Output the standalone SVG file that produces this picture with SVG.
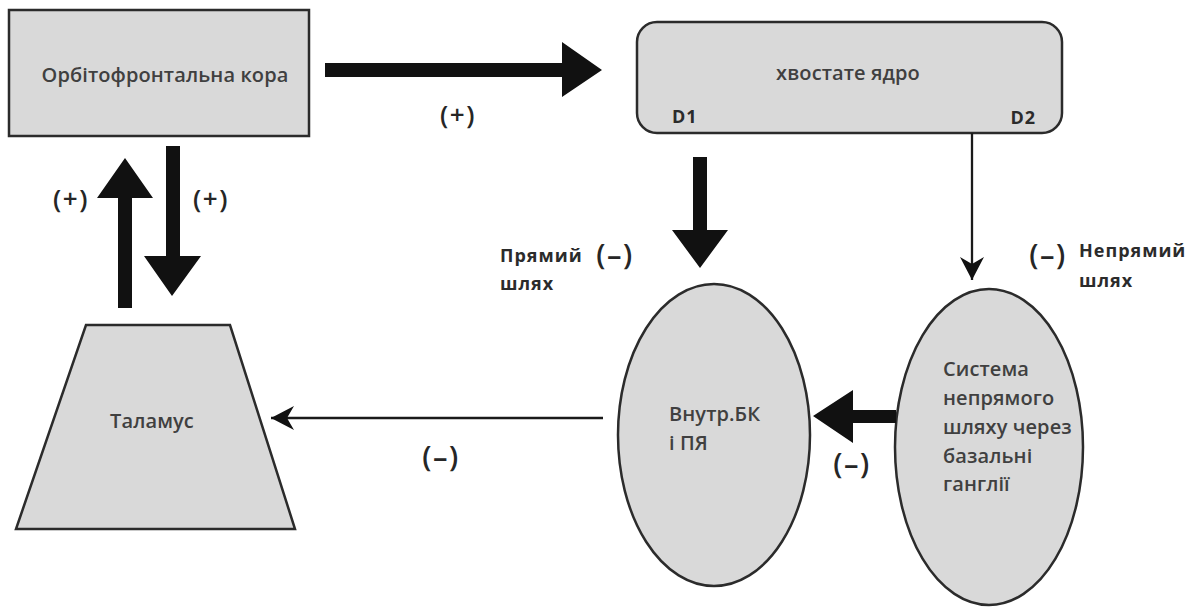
<svg xmlns="http://www.w3.org/2000/svg" width="1204" height="608" viewBox="0 0 1204 608">
  <style>
    .shape { fill: #d9d9d9; stroke: #2b2b2b; stroke-width: 2.5; }
    .label { font-family: "Open Sans", "Noto Sans", "DejaVu Sans", sans-serif; font-weight: 600; font-size: 20px; letter-spacing: 0.1px; fill: #404040; }
    .bold { font-family: "Open Sans", "Noto Sans", "DejaVu Sans", sans-serif; font-weight: bold; font-size: 18px; letter-spacing: 1px; fill: #2b2b2b; }
    .sign { font-family: "Open Sans", "Noto Sans", "DejaVu Sans", sans-serif; font-weight: 600; fill: #262626; text-anchor: middle; letter-spacing: 1.5px; }
    .thick { fill: #111; }
    .thin { fill: none; stroke: #1a1a1a; stroke-width: 2.3; }
  </style>
  <defs>
    <marker id="barb" viewBox="-24 -13 25 26" refX="0" refY="0" markerWidth="25" markerHeight="26" markerUnits="userSpaceOnUse" orient="auto">
      <path d="M0,0 L-23,-12 L-16,0 L-23,12 Z" fill="#111"/>
    </marker>
  </defs>

  <rect width="1204" height="608" fill="#ffffff"/>

  <!-- Nodes -->
  <g id="ofc">
    <rect class="shape" x="9" y="10" width="300" height="126"/>
    <text class="label" x="165" y="82" text-anchor="middle">Орбітофронтальна кора</text>
  </g>

  <g id="caudate">
    <rect class="shape" x="637" y="22" width="425" height="111" rx="20" ry="20"/>
    <text class="label" x="848" y="80" text-anchor="middle">хвостате ядро</text>
    <text class="bold" x="672" y="123" font-size="20" letter-spacing="0">D1</text>
    <text class="bold" x="1036" y="124" text-anchor="end" font-size="20" letter-spacing="0">D2</text>
  </g>

  <g id="thalamus">
    <polygon class="shape" points="86,325 230,325 295,529 16,529"/>
    <text class="label" x="152" y="428" text-anchor="middle">Таламус</text>
  </g>

  <g id="gpi-snr">
    <ellipse class="shape" cx="714" cy="435" rx="96" ry="151"/>
    <text class="label" x="669" y="421">Внутр.БК</text>
    <text class="label" x="669" y="450">і ПЯ</text>
  </g>

  <g id="indirect-system">
    <ellipse class="shape" cx="989" cy="447" rx="94" ry="158"/>
    <text class="label" x="943" y="376">Система</text>
    <text class="label" x="943" y="405">непрямого</text>
    <text class="label" x="943" y="434">шляху через</text>
    <text class="label" x="943" y="463">базальні</text>
    <text class="label" x="943" y="491">ганглії</text>
  </g>

  <!-- Connectors -->
  <g id="connectors">
    <!-- cortex to caudate -->
    <polygon class="thick" points="325,63 562,63 562,42 602,70 562,97 562,77 325,77"/>
    <!-- thalamus up to cortex -->
    <polygon class="thick" points="118,308 118,198 97,198 125,158 153,198 132,198 132,308"/>
    <!-- cortex down to thalamus -->
    <polygon class="thick" points="166,146 180,146 180,256 201,256 172,296 144,256 166,256"/>
    <!-- D1 direct pathway -->
    <polygon class="thick" points="693,157 707,157 707,230 728,230 700,268 672,230 693,230"/>
    <!-- indirect system to GPi/SNr -->
    <polygon class="thick" points="896,410 853,410 853,390 813,416 853,443 853,423 896,423"/>
    <!-- D2 indirect pathway -->
    <line class="thin" x1="972" y1="133" x2="972" y2="280" marker-end="url(#barb)"/>
    <!-- GPi/SNr to thalamus -->
    <line class="thin" x1="603" y1="418" x2="271" y2="418" marker-end="url(#barb)"/>
  </g>

  <!-- Pathway labels -->
  <g id="labels">
    <text class="sign" x="458" y="124" font-size="26">(+)</text>
    <text class="sign" x="71" y="208" font-size="26">(+)</text>
    <text class="sign" x="211" y="208" font-size="26">(+)</text>
    <text class="bold" x="500" y="262">Прямий</text>
    <text class="bold" x="500" y="290">шлях</text>
    <text class="sign" x="615" y="265" font-size="29" letter-spacing="2">(–)</text>
    <text class="sign" x="1048" y="265" font-size="29" letter-spacing="2">(–)</text>
    <text class="bold" x="1079" y="257">Непрямий</text>
    <text class="bold" x="1079" y="287">шлях</text>
    <text class="sign" x="441" y="467" font-size="29" letter-spacing="2">(–)</text>
    <text class="sign" x="852" y="474" font-size="29" letter-spacing="2">(–)</text>
  </g>
</svg>
